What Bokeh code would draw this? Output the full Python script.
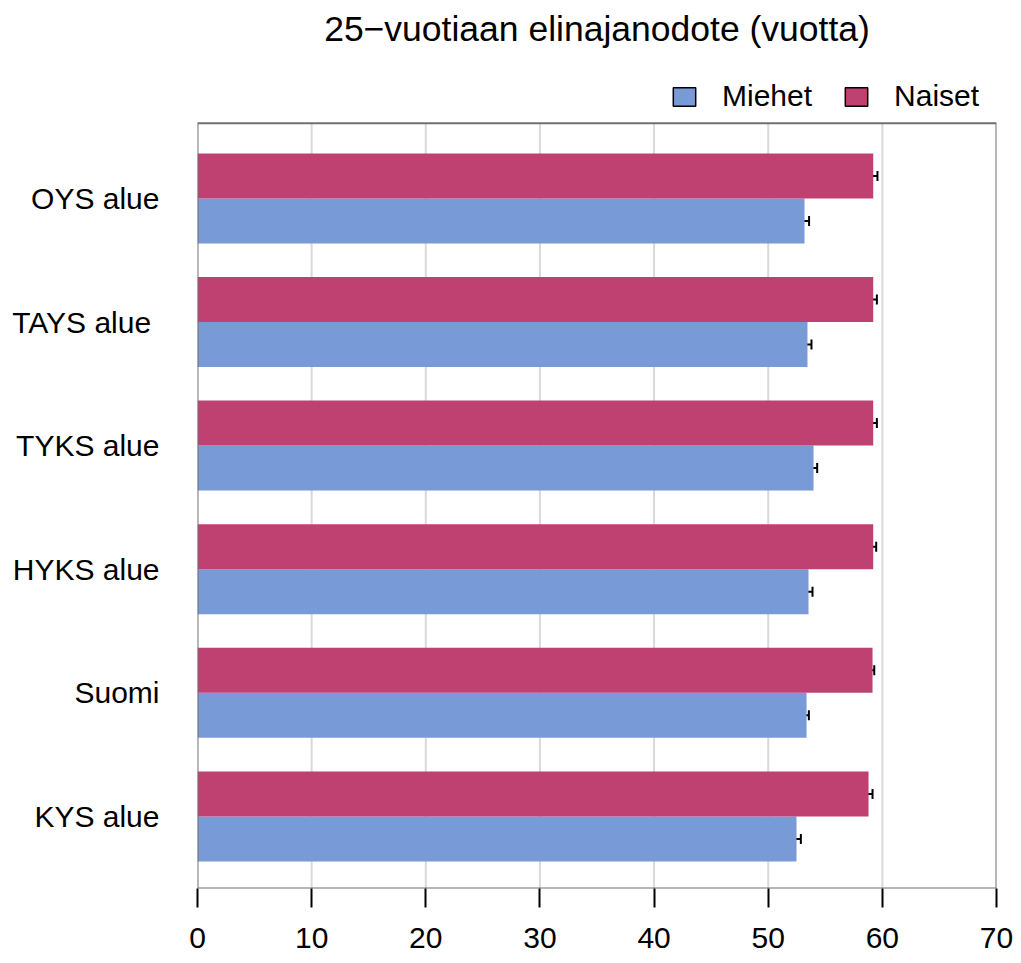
from bokeh.plotting import figure
from bokeh.models import (ColumnDataSource, Range1d, FixedTicker, Legend, LegendItem,
                          Whisker, TeeHead, Label)
from bokeh.embed import file_html
from bokeh.resources import INLINE

# Regions, listed from bottom to top of the chart
regions = ["KYS alue", "Suomi", "HYKS alue", "TYKS alue", "TAYS alue ", "OYS alue"]
miehet = [52.48, 53.36, 53.53, 53.97, 53.44, 53.18]
naiset = [58.79, 59.14, 59.20, 59.20, 59.20, 59.20]
# half-widths of the confidence intervals
miehet_ci = [0.38, 0.20, 0.35, 0.32, 0.35, 0.40]
naiset_ci = [0.35, 0.15, 0.26, 0.32, 0.32, 0.37]
x_ticks = [0, 10, 20, 30, 40, 50, 60, 70]
title_text = "25\u2212vuotiaan elinajanodote (vuotta)"

FONT = "Liberation Sans"
BLUE = "#789ad6"
RED = "#bf4171"
BAR_H = 0.364
# extent of the boxed plotting region; the frame above it holds title and legend
BOX_BOTTOM, BOX_TOP = -0.583, 5.607
X_MIN, X_MAX = 0, 70

pos = list(range(len(regions)))
src_m = ColumnDataSource(dict(
    y=[p_ - BAR_H / 2 for p_ in pos], v=miehet,
    lo=[v - c for v, c in zip(miehet, miehet_ci)],
    hi=[v + c for v, c in zip(miehet, miehet_ci)]))
src_n = ColumnDataSource(dict(
    y=[p_ + BAR_H / 2 for p_ in pos], v=naiset,
    lo=[v - c for v, c in zip(naiset, naiset_ci)],
    hi=[v + c for v, c in zip(naiset, naiset_ci)]))

p = figure(width=1021, height=963, output_backend="svg", toolbar_location=None,
           x_range=Range1d(X_MIN, X_MAX), y_range=Range1d(BOX_BOTTOM, 6.601),
           min_border_left=197, min_border_right=25, min_border_bottom=75,
           min_border_top=0)

p.background_fill_color = "white"
p.border_fill_color = "white"
p.outline_line_color = None
p.grid.grid_line_color = None

# x axis
p.xaxis.ticker = FixedTicker(ticks=x_ticks)
p.xaxis.axis_line_color = None
p.xaxis.major_tick_in = 0
p.xaxis.major_tick_out = 19
p.xaxis.major_tick_line_width = 2
p.xaxis.major_tick_line_color = "black"
p.xaxis.minor_tick_line_color = None
p.xaxis.major_label_text_font = FONT
p.xaxis.major_label_text_font_size = "30px"
p.xaxis.major_label_text_color = "black"
p.xaxis.major_label_standoff = 20

# y axis with region names
p.yaxis.ticker = FixedTicker(ticks=pos)
p.yaxis.major_label_overrides = {i: r for i, r in zip(pos, regions)}
p.yaxis.axis_line_color = None
p.yaxis.major_tick_line_color = None
p.yaxis.minor_tick_line_color = None
p.yaxis.major_tick_in = 0
p.yaxis.major_tick_out = 0
p.yaxis.major_label_standoff = 38
p.yaxis.major_label_text_font = FONT
p.yaxis.major_label_text_font_size = "30px"
p.yaxis.major_label_text_color = "black"

# vertical grid lines inside the box
inner = [t for t in x_ticks if X_MIN < t < X_MAX]
p.segment(x0=inner, x1=inner, y0=BOX_BOTTOM, y1=BOX_TOP,
          line_color="#d9d9d9", line_width=2)

# bars
p.hbar(y="y", left=0, right="v", height=BAR_H, source=src_m,
       fill_color=BLUE, line_color=None)
p.hbar(y="y", left=0, right="v", height=BAR_H, source=src_n,
       fill_color=RED, line_color=None)

# box around the plotting region
p.quad(left=X_MIN, right=X_MAX, bottom=BOX_BOTTOM, top=BOX_TOP,
       fill_color=None, line_color="#707070", line_width=2)

# confidence intervals
for src in (src_m, src_n):
    w = Whisker(source=src, base="y", lower="lo", upper="hi", dimension="width",
                line_color="black", line_width=2,
                lower_head=TeeHead(size=10, line_width=2, line_color="black"),
                upper_head=TeeHead(size=10, line_width=2, line_color="black"))
    p.add_layout(w)

# hidden outlined copies of the bars, used only for the legend swatches
lg_m = p.hbar(y="y", left=0, right="v", height=BAR_H, source=src_m,
              fill_color=BLUE, line_color="black", line_width=1.5, visible=False)
lg_n = p.hbar(y="y", left=0, right="v", height=BAR_H, source=src_n,
              fill_color=RED, line_color="black", line_width=1.5, visible=False)

legend = Legend(items=[LegendItem(label="Miehet", renderers=[lg_m]),
                       LegendItem(label="Naiset", renderers=[lg_n])],
                orientation="horizontal", location=(473, 775),
                label_text_font=FONT, label_text_font_size="30px",
                label_text_color="black", label_height=18,
                glyph_width=28, glyph_height=23, label_standoff=24,
                spacing=30, padding=0, margin=0, click_policy="none",
                inactive_fill_alpha=0,
                border_line_color=None, background_fill_alpha=0)
p.add_layout(legend, "center")

# chart title, centred over the box
p.add_layout(Label(x=(X_MIN + X_MAX) / 2, y=860, x_units="data", y_units="screen",
                   text=title_text, text_align="center", text_baseline="alphabetic",
                   text_font=FONT, text_font_size="35.5px", text_color="black"))

open("out.html", "w").write(file_html(p, INLINE))
